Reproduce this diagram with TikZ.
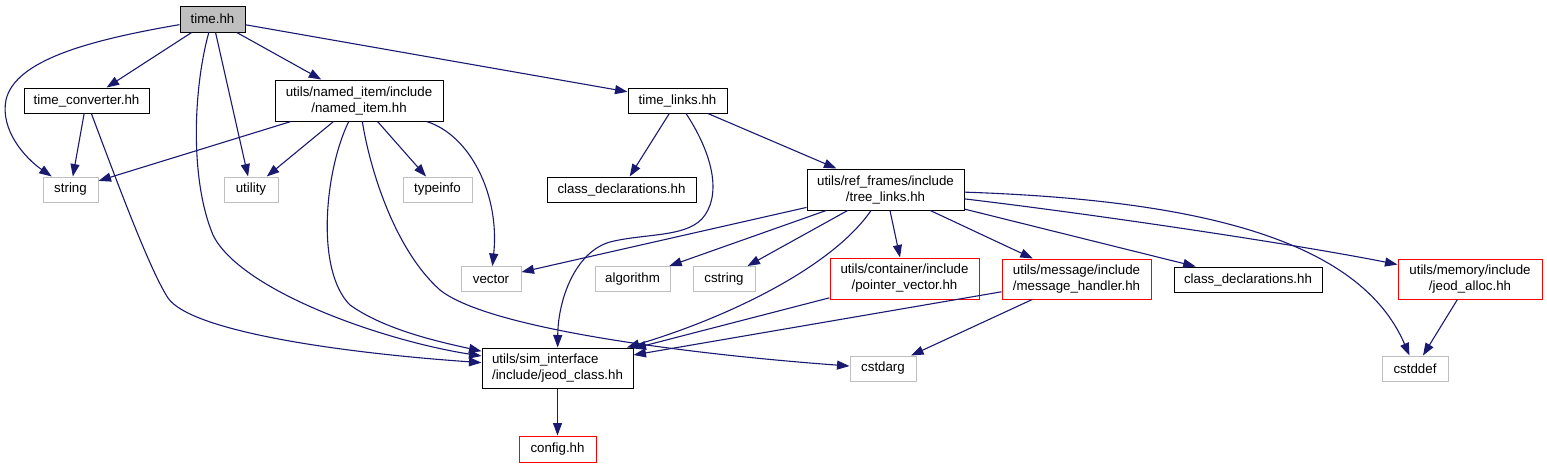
\documentclass[tikz,border=0pt]{standalone}
\usepackage{fontspec}
\setmainfont{Liberation Sans}
\usetikzlibrary{arrows.meta}
\definecolor{edgecol}{HTML}{191970}
\definecolor{grayline}{HTML}{BFBFBF}
\definecolor{timegray}{HTML}{BFBFBF}
\begin{document}
\begin{tikzpicture}[x=1pt,y=-1pt,
  box/.style={draw, line width=1pt, fill=white, minimum height=25pt, inner sep=0pt, align=center, font=\fontsize{13.3}{16}\selectfont},
  blk/.style={box, draw=black},
  gry/.style={box, draw=grayline},
  redb/.style={box, draw=red},
  dep/.style={draw=edgecol, line width=1.1pt, -{Triangle[length=12.5pt,width=9pt]}}]
\useasboundingbox (0,0) rectangle (1547,469);
% nodes
\node[blk, fill=timegray, minimum width=65pt, minimum height=26pt] (time) at (212.5,19) {time.hh};
\node[blk, minimum width=125pt] (tconv) at (86.5,100.5) {time\_converter.hh};
\node[blk, minimum width=168pt, minimum height=41pt] (named) at (359,100.5) {utils/named\_item/include\\/named\_item.hh};
\node[blk, minimum width=99pt] (tlinks) at (677.5,100.5) {time\_links.hh};
\node[gry, minimum width=55pt] (string) at (70.5,189.5) {string};
\node[gry, minimum width=54pt] (utility) at (251,189.5) {utility};
\node[gry, minimum width=69pt] (typeinfo) at (437.5,189.5) {typeinfo};
\node[blk, minimum width=149pt] (cdecla) at (621.5,189.5) {class\_declarations.hh};
\node[blk, minimum width=157pt, minimum height=41pt] (tree) at (885.5,189.5) {utils/ref\_frames/include\\/tree\_links.hh};
\node[gry, minimum width=60pt] (vector) at (491,279) {vector};
\node[gry, minimum width=75pt] (algorithm) at (632.5,279) {algorithm};
\node[gry, minimum width=62pt] (cstring) at (724,279) {cstring};
\node[redb, minimum width=149pt, minimum height=41pt] (ptrvec) at (904.5,278.5) {utils/container/include\\/pointer\_vector.hh};
\node[redb, minimum width=149pt, minimum height=40pt] (msg) at (1076.5,279) {utils/message/include\\/message\_handler.hh};
\node[blk, minimum width=148pt] (cdeclb) at (1248,279.5) {class\_declarations.hh};
\node[redb, minimum width=144pt, minimum height=40pt] (alloc) at (1470,279) {utils/memory/include\\/jeod\_alloc.hh};
\node[blk, minimum width=151pt, minimum height=40pt, align=left] (jeod) at (557.5,368) {utils/sim\_interface\\/include/jeod\_class.hh};
\node[gry, minimum width=66pt] (cstdarg) at (883,368.5) {cstdarg};
\node[gry, minimum width=66pt] (cstddef) at (1415,368.5) {cstddef};
\node[redb, minimum width=77pt, minimum height=26pt] (config) at (557.5,449) {config.hh};
% edges from time.hh
\draw[dep] (time) .. controls (90,40) and (15,60) .. (6,100) .. controls (0,130) and (25,158) .. (string);
\draw[dep] (time) -- (tconv);
\draw[dep] (time) .. controls (193,90) and (190,180) .. (213,235) .. controls (240,290) and (380,340) .. (jeod);
\draw[dep] (time) -- (utility);
\draw[dep] (time) -- (named);
\draw[dep] (time) -- (tlinks);
% time_converter
\draw[dep] (tconv) -- (string);
\draw[dep] (tconv) .. controls (120,190) and (150,270) .. (168,298) .. controls (190,330) and (330,352) .. (jeod);
% named_item
\draw[dep] (named) -- (string);
\draw[dep] (named) -- (utility);
\draw[dep] (named) -- (typeinfo);
\draw[dep] (named) .. controls (470,135) and (500,195) .. (vector);
\draw[dep] (named) .. controls (325,170) and (315,270) .. (350,305) .. controls (385,330) and (440,342) .. (jeod);
\draw[dep] (named) .. controls (370,170) and (395,250) .. (440,290) .. controls (490,330) and (700,355) .. (cstdarg);
% time_links
\draw[dep] (tlinks) -- (cdecla);
\draw[dep] (tlinks) .. controls (710,150) and (722,190) .. (705,215) .. controls (690,238) and (645,233) .. (610,242) .. controls (575,252) and (558,300) .. (jeod);
\draw[dep] (tlinks) -- (tree);
% tree_links
\draw[dep] (tree) -- (vector);
\draw[dep] (tree) -- (algorithm);
\draw[dep] (tree) -- (cstring);
\draw[dep] (tree) .. controls (830,270) and (720,320) .. (jeod);
\draw[dep] (tree) -- (ptrvec);
\draw[dep] (tree) -- (msg);
\draw[dep] (tree) -- (cdeclb);
\draw[dep] (tree) .. controls (1100,215) and (1300,245) .. (alloc);
\draw[dep] (tree) .. controls (1200,200) and (1360,240) .. (cstddef);
% others
\draw[dep] (ptrvec) -- (jeod);
\draw[dep] (msg) -- (jeod);
\draw[dep] (msg) -- (cstdarg);
\draw[dep] (alloc) -- (cstddef);
\draw[dep] (jeod) -- (config);
\end{tikzpicture}
\end{document}
